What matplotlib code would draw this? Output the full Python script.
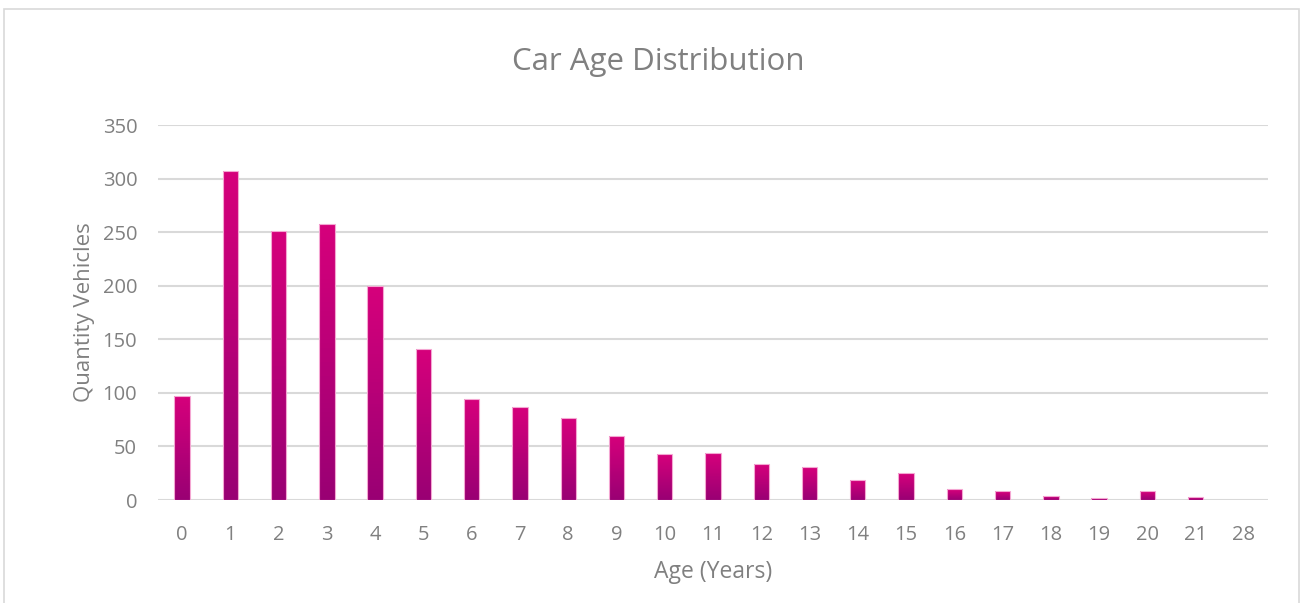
import numpy as np
import matplotlib
matplotlib.use("Agg")
import matplotlib.pyplot as plt
from matplotlib.colors import LinearSegmentedColormap
from matplotlib.patches import Rectangle

ages = ['0', '1', '2', '3', '4', '5', '6', '7', '8', '9', '10', '11',
        '12', '13', '14', '15', '16', '17', '18', '19', '20', '21', '28']
counts = [97, 307, 251, 258, 200, 141, 94, 87, 77, 60, 43, 44,
          34, 31, 19, 25, 10, 8, 4, 2, 8, 3, 0]

plt.rcParams['font.family'] = ['Open Sans', 'DejaVu Sans']
grey = '#808080'

fig = plt.figure(figsize=(13.03, 6.03), dpi=100)
ax = fig.add_axes([0.1213, 0.1708, 0.8518, 0.6219])

# outer chart border
fig.patches.append(Rectangle((0.003, -0.01), 0.994, 0.995, transform=fig.transFigure,
                             fill=False, edgecolor='#D9D9D9', linewidth=1.2))

# vertical gradient: each bar is a stack of thin slices
cmap = LinearSegmentedColormap.from_list('pinkgrad', ['#990073', '#D5007B'])
n_slices = 60
w = 0.32
x = np.arange(len(ages))
for xi, h in zip(x, counts):
    if h <= 0:
        continue
    step = h / n_slices
    for k in range(n_slices):
        top = min((k + 1.05) * step, h)
        ax.bar(xi, top - k * step, bottom=k * step, width=w,
               color=cmap(k / (n_slices - 1)), linewidth=0,
               antialiased=False, zorder=3)
    ax.add_patch(Rectangle((xi - w / 2, 0), w, h, fill=False,
                           edgecolor='#F4A6D2', linewidth=0.8, zorder=4))

ax.set_xlim(-0.5, len(ages) - 0.5)
ax.set_ylim(0, 350)
ax.set_yticks(range(0, 351, 50))
ax.set_xticks(x)
ax.set_xticklabels(ages)
ax.grid(axis='y', color='#D9D9D9', linewidth=1.5, zorder=0)
ax.set_axisbelow(True)
for s in ax.spines.values():
    s.set_visible(False)
ax.tick_params(length=0, colors=grey, labelsize=14.5)
ax.tick_params(axis='x', pad=18)
ax.tick_params(axis='y', pad=15)

fig.text(0.505, 0.897, 'Car Age Distribution', color=grey, fontsize=22.5,
         ha='center', va='center')
ax.set_xlabel('Age (Years)', color=grey, fontsize=16.5)
ax.set_ylabel('Quantity Vehicles', color=grey, fontsize=16)
ax.xaxis.set_label_coords(0.5, -0.192)
ax.xaxis.label.set_va('center')
ax.yaxis.set_label_coords(-0.0667, 0.5)
ax.yaxis.label.set_va('center')

fig.savefig('out.png', dpi=100)
